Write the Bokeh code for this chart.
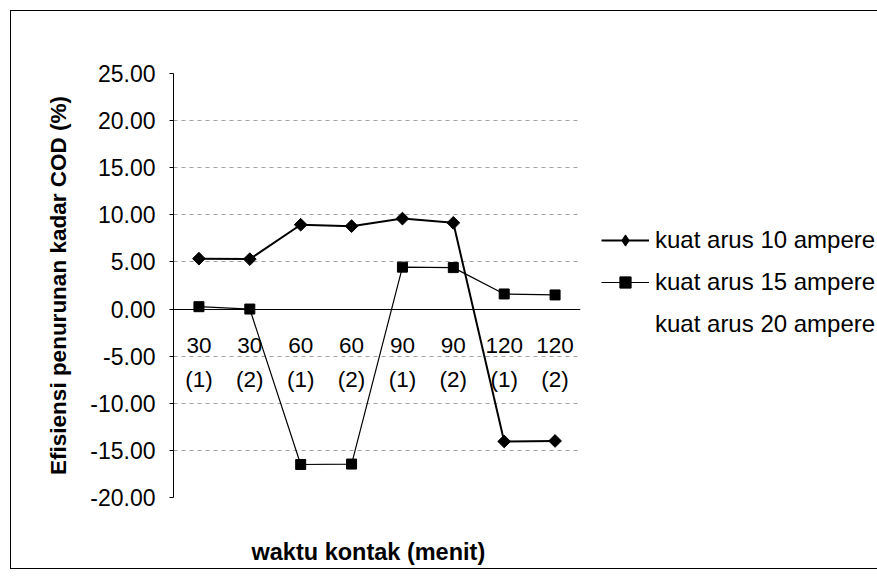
from math import pi
from bokeh.plotting import figure
from bokeh.models import (FactorRange, Range1d, Legend, LegendItem, FixedTicker,
                          Title, PrintfTickFormatter, ColumnDataSource)
from bokeh.embed import file_html
from bokeh.resources import INLINE

# ---- data ----
categories = ["30\n(1)", "30\n(2)", "60\n(1)", "60\n(2)",
              "90\n(1)", "90\n(2)", "120\n(1)", "120\n(2)"]
arus_10 = [5.35, 5.3, 8.95, 8.8, 9.6, 9.15, -14.05, -14.0]
arus_15 = [0.25, 0.0, -16.5, -16.45, 4.45, 4.4, 1.6, 1.5]
y_ticks = [-20, -15, -10, -5, 0, 5, 10, 15, 20, 25]
grid_ticks = [-15, -10, -5, 5, 10, 15, 20]
series_labels = ["kuat arus 10 ampere", "kuat arus 15 ampere", "kuat arus 20 ampere"]

FONT = "Liberation Sans"

p = figure(frame_width=407, frame_height=424,
           x_range=FactorRange(*categories),
           y_range=Range1d(-20, 25),
           output_backend="svg", toolbar_location=None,
           min_border_left=162, min_border_right=296,
           min_border_top=62, min_border_bottom=71)
p.margin = (10, 0, 0, 10)
p.styles = {"border": "1.5px solid black"}
p.outline_line_color = None
p.background_fill_color = "white"
p.border_fill_color = "white"

# y axis
p.yaxis.ticker = FixedTicker(ticks=y_ticks)
p.yaxis.formatter = PrintfTickFormatter(format="%.2f")
p.yaxis.axis_label = "Efisiensi penurunan kadar COD (%)"
p.yaxis.axis_label_text_font = FONT
p.yaxis.axis_label_text_font_style = "bold"
p.yaxis.axis_label_text_font_size = "22.5px"
p.yaxis.axis_label_text_color = "black"
p.yaxis.axis_label_standoff = 16
p.yaxis.major_label_text_font = FONT
p.yaxis.major_label_text_font_size = "23px"
p.yaxis.major_label_text_color = "black"
p.yaxis.major_label_standoff = 14
p.yaxis.major_tick_out = 4
p.yaxis.major_tick_in = 0
p.yaxis.minor_tick_line_color = None
p.yaxis.axis_line_color = "black"
p.yaxis.major_tick_line_color = "black"

# x axis at y = 0
p.xaxis.fixed_location = 0
p.xaxis.major_label_text_font = FONT
p.xaxis.major_label_text_font_size = "22.5px"
p.xaxis.major_label_text_color = "black"
p.xaxis.major_label_text_line_height = 1.37
p.xaxis.major_label_standoff = 18
p.xaxis.major_tick_line_color = None
p.xaxis.axis_line_color = "black"

# spacer, then the x-axis title
p.add_layout(Title(text=" ", text_font_size="1px", standoff=34), "below")
p.add_layout(Title(text="waktu kontak (menit)", align="left", offset=78, standoff=4,
                   text_font=FONT, text_font_style="bold",
                   text_font_size="23.5px", text_color="black"), "below")

# grid
p.xgrid.grid_line_color = None
p.ygrid.ticker = FixedTicker(ticks=grid_ticks)
p.ygrid.grid_line_color = "#a0a0a0"
p.ygrid.grid_line_dash = "4 4"

src = ColumnDataSource(dict(x=categories, a10=arus_10, a15=arus_15))

l10 = p.line("x", "a10", source=src, line_color="black", line_width=2)
m10 = p.scatter("x", "a10", source=src, marker="square", angle=pi / 4,
                size=9, fill_color="black", line_color="black")
l15 = p.line("x", "a15", source=src, line_color="black", line_width=1.2)
m15 = p.scatter("x", "a15", source=src, marker="square", size=10,
                fill_color="black", line_color="black")
l20 = p.line(x=[], y=[], line_color=None, line_alpha=0)
# legend-only diamond glyph (zero size in the plot; the legend sizes it itself)
d10 = p.scatter("x", "a10", source=src, marker="diamond", size=0,
                fill_color="black", line_color="black")

legend = Legend(items=[
    LegendItem(label=series_labels[0], renderers=[l10, d10]),
    LegendItem(label=series_labels[1], renderers=[l15, m15]),
    LegendItem(label=series_labels[2], renderers=[l20]),
], location=(21, 159))
legend.border_line_color = None
legend.background_fill_alpha = 0
legend.padding = 0
legend.margin = 0
legend.spacing = 14
legend.glyph_width = 48
legend.glyph_height = 28
legend.label_height = 28
legend.label_standoff = 6
legend.label_text_font = FONT
legend.label_text_font_size = "24px"
legend.label_text_color = "black"
p.add_layout(legend, "right")

open("out.html", "w").write(file_html(p, INLINE))
